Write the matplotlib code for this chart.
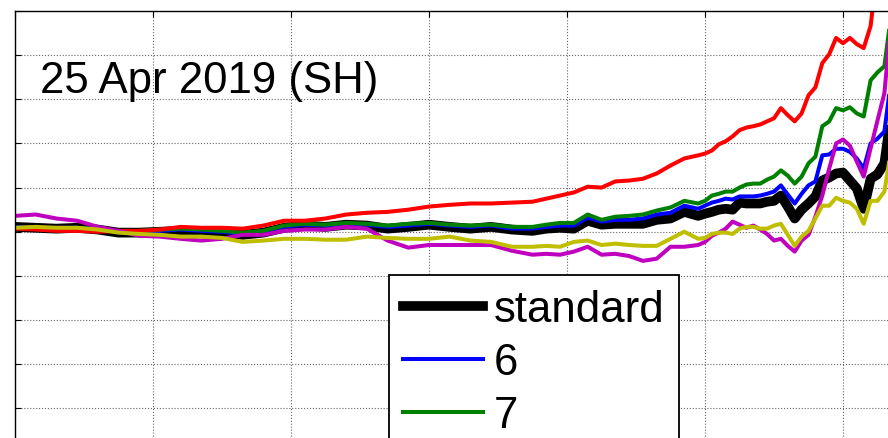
import matplotlib
matplotlib.use("Agg")
import matplotlib.pyplot as plt
import numpy as np

plt.rcParams['font.family'] = ['Liberation Sans', 'DejaVu Sans']

# lead time (days)
days = list(range(0, 76, 3)) + list(range(77, 100, 2)) + list(range(100, 128))

standard = [0.11, 0.09, 0.07, 0.09, 0.05, -0.02, -0.02, 0.00, 0.02, 0.00, -0.02, -0.07, -0.02,
            0.09, 0.14, 0.11, 0.16, 0.14, 0.07, 0.11, 0.16, 0.11, 0.07, 0.11, 0.05, 0.02,
            0.07, 0.09, 0.07, 0.25, 0.16, 0.18, 0.18, 0.18, 0.27, 0.30, 0.45, 0.36,
            0.41, 0.45, 0.50, 0.52, 0.50, 0.66, 0.64, 0.64, 0.64, 0.68, 0.70, 0.82, 0.57, 0.30,
            0.50, 0.64, 0.80, 1.16, 1.23, 1.32, 1.34, 1.16, 0.98, 0.52, 1.20, 1.30, 1.55, 2.68]

run6 = [0.11, 0.09, 0.09, 0.09, 0.05, 0.00, 0.00, 0.02, 0.05, 0.02, 0.00, -0.05, 0.00,
        0.11, 0.16, 0.14, 0.18, 0.16, 0.11, 0.14, 0.18, 0.14, 0.11, 0.14, 0.07, 0.07,
        0.11, 0.14, 0.14, 0.32, 0.23, 0.27, 0.27, 0.30, 0.39, 0.43, 0.59, 0.52,
        0.59, 0.66, 0.70, 0.75, 0.73, 0.80, 0.80, 0.80, 0.82, 0.86, 0.91, 1.05, 0.84, 0.64,
        0.86, 1.05, 1.14, 1.73, 1.75, 1.88, 1.88, 1.81, 1.66, 1.43, 2.00, 2.11, 2.27, 3.48]

run7 = [0.09, 0.09, 0.07, 0.09, 0.05, 0.00, 0.02, 0.05, 0.07, 0.05, 0.02, -0.02, 0.02,
        0.14, 0.18, 0.16, 0.20, 0.18, 0.14, 0.18, 0.20, 0.16, 0.14, 0.16, 0.11, 0.11,
        0.16, 0.20, 0.20, 0.39, 0.27, 0.34, 0.36, 0.39, 0.48, 0.55, 0.70, 0.64,
        0.70, 0.82, 0.86, 0.91, 0.91, 1.00, 1.07, 1.09, 1.09, 1.18, 1.25, 1.39, 1.27, 1.09,
        1.25, 1.55, 1.70, 2.39, 2.50, 2.80, 2.75, 2.82, 2.68, 2.61, 3.43, 3.61, 3.75, 4.95]

run8 = [0.07, 0.05, 0.02, 0.02, 0.00, 0.02, 0.02, 0.05, 0.11, 0.09, 0.09, 0.07, 0.14,
        0.25, 0.25, 0.30, 0.39, 0.43, 0.45, 0.50, 0.57, 0.61, 0.64, 0.64, 0.66, 0.68,
        0.75, 0.82, 0.89, 1.02, 1.00, 1.14, 1.16, 1.20, 1.32, 1.50, 1.66, 1.73,
        1.77, 1.84, 1.98, 2.05, 2.16, 2.30, 2.36, 2.39, 2.43, 2.50, 2.57, 2.80, 2.64, 2.50,
        2.68, 3.09, 3.27, 3.82, 4.02, 4.39, 4.27, 4.39, 4.25, 4.16, 4.66, 5.98, 6.66, 7.34]

run9 = [0.36, 0.39, 0.30, 0.25, 0.11, 0.02, -0.09, -0.11, -0.16, -0.20, -0.16, -0.07, -0.07,
        0.02, 0.05, 0.05, 0.11, 0.07, -0.20, -0.36, -0.30, -0.30, -0.30, -0.30, -0.43, -0.52,
        -0.50, -0.52, -0.45, -0.34, -0.52, -0.50, -0.55, -0.66, -0.61, -0.34, -0.34, -0.30,
        -0.23, -0.09, -0.02, 0.07, 0.23, 0.16, 0.09, 0.14, 0.05, -0.05, -0.20, -0.16, -0.32, -0.45,
        -0.20, -0.07, 0.34, 0.82, 1.43, 2.00, 2.09, 1.95, 1.59, 1.25, 1.89, 2.52, 3.14, 4.84]

run10 = [0.09, 0.11, 0.09, 0.09, 0.05, -0.02, -0.05, -0.07, -0.11, -0.11, -0.14, -0.23, -0.20,
         -0.16, -0.16, -0.18, -0.18, -0.11, -0.14, -0.16, -0.16, -0.11, -0.20, -0.23, -0.34, -0.34,
         -0.32, -0.34, -0.23, -0.20, -0.30, -0.27, -0.30, -0.32, -0.32, -0.16, 0.00, -0.16,
         -0.14, -0.05, -0.02, -0.02, -0.05, 0.07, 0.11, 0.11, 0.07, 0.07, 0.14, 0.18, -0.07, -0.32,
         -0.11, 0.02, 0.30, 0.59, 0.59, 0.77, 0.70, 0.66, 0.52, 0.18, 0.70, 0.70, 0.91, 1.89]

labels = ['standard', '6', '7', '8', '9', '10']
series = [standard, run6, run7, run8, run9, run10]
colors = ['k', 'b', 'g', 'r', 'm', 'y']
widths = [7, 2.9, 2.9, 2.9, 2.9, 2.9]

fig = plt.figure(figsize=(8.88, 4.39), dpi=100)
# axes run past the right and bottom edge of the picture
ax = fig.add_axes([15/888, 1 - 453.5/439, 966/888, 441.5/439])

for y, c, lw, lab in zip(series, colors, widths, labels):
    ax.plot(days, y, color=c, linewidth=lw, label=lab)

ax.set_xlim(0, 140)
ax.set_ylim(-5, 5)
ax.set_xticks(np.arange(0, 141, 20))
ax.set_yticks(np.arange(-5, 6, 1))
ax.tick_params(direction='in', length=4, top=True, right=True,
               labelleft=False, labelbottom=False, color='k')
ax.grid(True, color='0.4', linestyle=':', linewidth=0.8)
ax.set_axisbelow(True)
for s in ax.spines.values():
    s.set_linewidth(1.0)
    s.set_color('k')

ax.text(25/966, (453.5 - 93)/441.5, '25 Apr 2019 (SH)', transform=ax.transAxes,
        fontsize=31.5, ha='left', va='baseline')

leg = ax.legend(loc='upper left', bbox_to_anchor=((389 - 15)/966, (453.5 - 276)/441.5),
                borderaxespad=0, fontsize=31.5, handlelength=1.83, handletextpad=0.25,
                borderpad=0.32, labelspacing=0.28, fancybox=False, framealpha=1)
leg.get_frame().set_edgecolor('k')
leg.get_frame().set_linewidth(1.3)

fig.savefig('out.png', dpi=100)
